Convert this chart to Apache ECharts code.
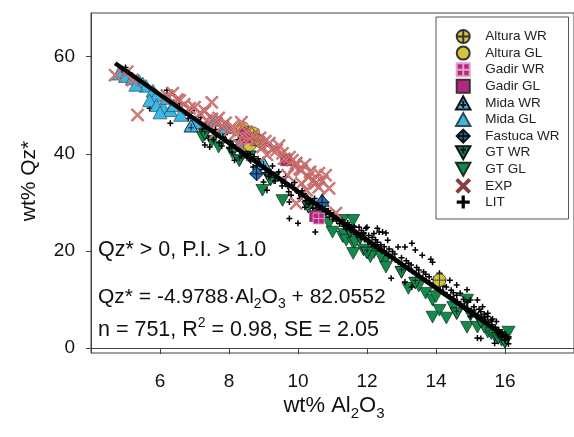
<!DOCTYPE html>
<html><head><meta charset="utf-8">
<script src="https://cdn.jsdelivr.net/npm/echarts@6/dist/echarts.min.js"></script>
<style>html,body{margin:0;padding:0;background:#fff}#c{width:574px;height:437px}</style>
</head><body><div id="c"></div>
<script>
// ---- data (wt% Al2O3, wt% Qz*) ----
const xTicks = [6, 8, 10, 12, 14, 16];
const yTicks = [0, 20, 40, 60];
const fitSlope = -4.9788, fitIntercept = 82.0552;
const fitRangeX = [4.7, 16.1];

const alturaWR = [[8.55,44.3],[8.75,43.0],[14.1,14.0]];
const alturaGL = [[8.4,45.3],[8.7,44.2],[8.9,42.6],[8.6,41.9]];
const gadirWR = [[8.5,43.2],[10.6,26.7]];
const gadirGL = [[8.45,44.0],[9.66,38.7],[10.5,27.2]];
const midaWR = [[10.7,30.5],[9.0,38.1],[6.9,45.8]];
const midaGL = [[4.8,56.5],[5.0,56.0],[5.2,55.5],[5.4,55.0],[5.5,54.5],[5.6,54.0],[5.8,53.0],[5.9,52.0],[5.7,51.0],[5.9,50.0],[6.1,49.5],[6.3,49.0],[6.0,48.5],[6.4,50.0],[6.2,51.5],[5.3,54.2],[7.6,47.0],[7.9,45.5],[6.6,48.0],[7.0,46.5],[8.3,42.0]];
const fastucaWR = [[10.7,30.0],[8.8,35.9]];
const gtWR = [[7.3,44.0],[8.6,39.4],[8.3,38.6],[9.2,34.6],[10.3,29.0],[11.5,24.0],[11.8,22.6],[12.0,19.6],[13.0,15.6],[13.4,13.4],[14.6,7.1],[15.3,5.4],[15.8,2.0],[16.0,1.2]];
const gtGL = [[7.24,43.4],[7.7,41.4],[7.5,42.6],[8.1,40.2],[8.97,32.5],[9.55,30.4],[9.3,35.0],[10.6,27.8],[10.9,25.7],[11.0,23.9],[11.3,26.3],[11.3,22.9],[11.35,23.4],[11.4,22.2],[11.6,21.6],[11.65,21.8],[11.6,19.5],[11.6,26.3],[11.9,20.2],[12.2,19.7],[12.5,17.7],[12.55,16.7],[12.4,18.9],[13.2,12.3],[13.7,11.3],[13.9,9.9],[13.9,6.4],[14.1,7.8],[14.3,6.2],[14.5,8.4],[14.9,9.9],[14.9,4.3],[15.0,6.8],[15.2,4.3],[15.5,3.3],[15.4,4.3],[15.6,3.0],[15.9,1.6],[16.1,3.3],[15.7,2.5],[14.0,10.6],[13.5,12.8],[12.1,18.8]];
const exp = [[4.7,56.2],[5.35,48.0],[6.37,52.5],[6.2,52.0],[6.5,51.2],[6.57,51.0],[6.7,50.2],[6.86,49.4],[7.0,49.6],[7.15,48.3],[7.3,48.8],[7.35,46.9],[7.5,50.6],[7.5,47.2],[7.64,46.3],[7.7,47.4],[7.81,45.5],[7.9,46.4],[8.02,44.9],[8.1,45.6],[8.2,44.2],[8.36,46.5],[8.4,43.6],[8.5,44.6],[8.6,43.1],[8.7,43.9],[8.8,42.8],[8.9,43.3],[8.97,41.4],[9.05,42.6],[9.17,42.2],[9.25,40.9],[9.38,40.8],[9.45,41.7],[9.55,40.1],[9.6,39.0],[9.75,39.3],[9.84,38.7],[9.9,37.4],[9.95,38.1],[10.05,36.9],[10.1,36.6],[10.2,37.8],[10.3,35.2],[10.35,36.3],[10.45,34.6],[10.5,33.9],[10.6,36.0],[10.6,33.1],[10.7,34.4],[10.8,35.6],[10.9,32.9],[11.1,27.8],[9.95,29.8],[9.1,39.8],[8.3,41.8],[7.6,44.3],[10.1,33.9],[10.25,32.5],[9.7,35.6],[5.2,55.2],[5.05,56.9]];
const lit = [[4.9,57.2],[5.0,57.8],[5.1,56.6],[5.7,49.4],[6.0,51.8],[6.2,53.1],[6.3,46.3],[6.45,50.2],[6.57,50.4],[6.62,48.9],[6.75,48.4],[6.82,47.3],[6.93,48.9],[7.02,47.0],[7.05,45.6],[7.13,46.6],[7.22,45.1],[7.18,47.5],[7.3,41.8],[7.33,46.2],[7.44,41.4],[7.41,43.2],[7.52,44.8],[7.55,42.9],[7.63,43.9],[7.61,45.0],[7.72,42.3],[7.74,44.4],[7.83,43.5],[7.79,41.6],[7.92,42.8],[7.88,44.0],[8.01,41.2],[8.04,42.6],[8.12,41.9],[8.16,38.7],[8.09,40.4],[8.22,41.4],[8.27,42.9],[8.31,40.6],[8.36,39.5],[8.42,41.0],[8.45,39.9],[8.52,39.2],[8.55,40.6],[8.63,38.6],[8.61,39.9],[8.7,37.3],[8.73,39.4],[8.81,37.6],[8.84,39.0],[8.92,36.8],[8.88,38.3],[9.0,34.2],[9.02,37.4],[9.05,36.1],[9.1,32.5],[9.12,36.8],[9.15,35.4],[9.22,36.2],[9.26,37.5],[9.31,35.6],[9.34,34.4],[9.42,35.1],[9.44,36.3],[9.51,34.5],[9.54,33.4],[9.62,34.0],[9.64,35.3],[9.75,26.7],[9.75,30.1],[9.71,33.3],[9.73,32.2],[9.82,33.6],[9.8,31.5],[9.92,32.6],[9.9,34.1],[10.0,25.7],[10.02,31.9],[10.05,30.8],[10.12,32.4],[10.1,31.2],[10.2,29.0],[10.22,30.4],[10.18,31.8],[10.32,29.8],[10.28,31.0],[10.41,30.2],[10.43,28.8],[10.5,23.9],[10.52,29.5],[10.48,30.8],[10.61,28.6],[10.58,29.9],[10.72,28.0],[10.69,29.3],[10.81,27.5],[10.78,28.7],[10.92,27.0],[10.88,28.3],[11.01,26.6],[11.04,27.9],[11.12,26.2],[11.09,27.4],[11.21,25.6],[11.18,26.9],[11.32,25.1],[11.28,26.4],[11.41,24.6],[11.44,25.8],[11.52,24.3],[11.48,25.4],[11.61,23.8],[11.63,25.0],[11.72,23.3],[11.77,24.9],[11.81,22.8],[11.84,24.2],[11.92,22.4],[11.97,24.7],[11.9,23.6],[12.0,24.9],[12.02,21.9],[12.05,23.2],[12.12,21.4],[12.15,22.8],[12.2,23.6],[12.22,21.0],[12.25,22.3],[12.3,24.7],[12.32,20.5],[12.3,21.8],[12.35,23.9],[12.45,23.9],[12.42,20.0],[12.4,21.3],[12.52,19.6],[12.55,23.7],[12.5,20.9],[12.6,22.2],[12.62,19.1],[12.64,20.4],[12.7,14.4],[12.71,18.6],[12.74,19.9],[12.82,18.2],[12.8,19.4],[12.91,17.7],[12.9,20.8],[13.02,17.2],[13.0,18.6],[13.1,20.8],[13.11,16.8],[13.1,13.6],[13.14,18.0],[13.22,16.3],[13.2,17.5],[13.3,21.6],[13.3,12.6],[13.32,15.8],[13.28,17.1],[13.42,15.3],[13.4,20.2],[13.44,16.6],[13.52,14.9],[13.5,16.1],[13.6,19.1],[13.62,14.4],[13.64,15.7],[13.72,13.9],[13.7,15.2],[13.82,13.4],[13.85,18.3],[13.8,14.7],[13.92,13.0],[13.9,17.7],[13.94,14.2],[14.02,12.5],[14.0,13.7],[14.1,15.4],[14.12,12.0],[14.15,13.3],[14.22,11.5],[14.2,12.8],[14.32,11.0],[14.3,12.6],[14.4,14.0],[14.42,10.6],[14.44,11.9],[14.52,10.1],[14.5,11.4],[14.6,13.0],[14.62,9.6],[14.6,10.9],[14.72,9.1],[14.7,11.3],[14.82,8.7],[14.8,10.0],[14.9,12.0],[14.92,8.2],[14.9,9.5],[15.0,6.5],[15.02,7.7],[15.0,9.9],[15.12,7.2],[15.1,8.5],[15.2,9.9],[15.22,6.8],[15.2,2.1],[15.25,8.0],[15.3,2.0],[15.32,6.3],[15.35,8.5],[15.3,7.5],[15.42,5.8],[15.4,7.0],[15.5,7.2],[15.52,5.3],[15.5,6.5],[15.6,5.8],[15.62,4.8],[15.64,6.0],[15.72,4.3],[15.7,1.0],[15.75,5.5],[15.82,3.8],[15.8,2.9],[15.92,3.3],[15.9,2.2],[16.02,2.8],[16.0,1.6],[16.1,2.0],[16.1,0.9]];

// ---- symbols ----
const S = {
  circleCross: 'path://M10,0 A10,10 0 1,1 -10,0 A10,10 0 1,1 10,0 Z M0,-10 L0,10 M-10,0 L10,0',
  circle: 'circle',
  rectCross: 'path://M0,0 L20,0 L20,20 L0,20 Z M10,0 L10,20 M0,10 L20,10',
  rect: 'path://M0,0 L20,0 L20,20 L0,20 Z',
  triCross: 'path://M10,0 L20,18 L0,18 Z M10,6 L10,16 M6,12 L14,12',
  tri: 'path://M10,0 L20,18 L0,18 Z',
  diamondCross: 'path://M10,0 L20,10 L10,20 L0,10 Z M10,0 L10,20 M0,10 L20,10',
  downTriCross: 'path://M0,0 L20,0 L10,18 Z M10,2 L10,10 M6,5 L14,5',
  downTri: 'path://M0,0 L20,0 L10,18 Z',
  xMark: 'path://M2,0 L10,8 L18,0 L20,2 L12,10 L20,18 L18,20 L10,12 L2,20 L0,18 L8,10 L0,2 Z',
  plus: 'path://M3,0 L5,0 L5,3 L8,3 L8,5 L5,5 L5,8 L3,8 L3,5 L0,5 L0,3 L3,3 Z'
};
const C = {yellow:'#D4C43A', magenta:'#B3287E', lblue:'#3DB7E6', blue:'#1F6DB5', green:'#0F8B4B', exp:'#E27C7C', lit:'#000000'};

function sc(name, data, symbol, size, color, border, bw) {
  return {name, type:'scatter', data, symbol, symbolSize:size, symbolKeepAspect:true,
    itemStyle:{color, borderColor:border, borderWidth:bw, opacity:1}, z:2};
}
const ser = [
  sc('GT GL', gtGL, S.downTri, 13, C.green, '#1a2a1a', 0.7),
  sc('GT WR', gtWR, S.downTriCross, 13, C.green, '#111', 0.9),
  sc('LIT', lit, S.plus, 6, C.lit, '#000', 0),
  sc('Mida GL', midaGL, S.tri, 14, C.lblue, '#2b4a5a', 0.7),
  sc('Mida WR', midaWR, S.triCross, 14, C.lblue, '#111', 0.9),
  sc('Altura GL', alturaGL, S.circle, 13, C.yellow, '#333', 0.7),
  sc('Altura WR', alturaWR, S.circleCross, 13, C.yellow, '#333', 0.9),
  sc('Gadir GL', gadirGL, S.rect, 11, C.magenta, '#333', 0.6),
  sc('Gadir WR', gadirWR, S.rectCross, 11, C.magenta, '#e7a0c8', 0.9),
  sc('Fastuca WR', fastucaWR, S.diamondCross, 14, C.blue, '#111', 0.9),
  sc('EXP', exp, S.xMark, 13, C.exp, '#8a3c3c', 0.5)
];
ser.push({name:'fit', type:'line', data: fitRangeX.map(x => [x, fitSlope*x + fitIntercept]),
  symbol:'none', lineStyle:{color:'#000', width:4.5}, z:5, silent:true});

const legendNames = ['Altura WR','Altura GL','Gadir WR','Gadir GL','Mida WR','Mida GL','Fastuca WR','GT WR','GT GL','EXP','LIT'];
const FONT = '"Liberation Sans", Arial, sans-serif';

const chart = echarts.init(document.getElementById('c'), null, {renderer:'canvas'});
chart.setOption({
  animation:false,
  backgroundColor:'#ffffff',
  grid:{left:91, top:13, right:-1, bottom:84, show:true, borderColor:'#444', borderWidth:1},
  xAxis:{type:'value', min:4, max:18,
    axisLine:{show:true, lineStyle:{color:'#444', width:1}},
    axisTick:{show:true, inside:false, length:6, lineStyle:{color:'#444'}, customValues:xTicks},
    axisLabel:{fontSize:19, color:'#111', fontFamily:FONT, margin:19, customValues:xTicks},
    splitLine:{show:false}},
  yAxis:{type:'value', min:-1, max:69,
    axisLine:{show:true, lineStyle:{color:'#444', width:1}},
    axisTick:{show:true, inside:false, length:5, lineStyle:{color:'#444'}, customValues:yTicks},
    axisLabel:{fontSize:19, color:'#111', fontFamily:FONT, margin:16, customValues:yTicks},
    splitLine:{show:false}},
  legend:{data:legendNames, orient:'vertical', left:436, top:17,
    itemWidth:34, itemHeight:13, itemGap:1.6,
    padding:[12,9,10,19], borderColor:'#555', borderWidth:1, backgroundColor:'#fff',
    textStyle:{fontSize:13.5, color:'#222', fontFamily:FONT}, selectedMode:false},
  graphic:[
    {type:'text', x:98, y:250, style:{text:'Qz* > 0, P.I. > 1.0', fontSize:21.5, fontFamily:FONT, fill:'#111', verticalAlign:'middle'}},
    {type:'text', x:98, y:297, style:{text:'{n|Qz* = -4.9788·Al}{s|2}{n|O}{s|3}{n| + 82.0552}', fontFamily:FONT, fill:'#111', verticalAlign:'middle',
      rich:{n:{fontSize:21, lineHeight:28, fontFamily:FONT, fill:'#111'}, s:{fontSize:14, lineHeight:14, verticalAlign:'bottom', fontFamily:FONT, fill:'#111'}}}},
    {type:'text', x:98, y:330, style:{text:'{n|n = 751, R}{p|2}{n| = 0.98, SE = 2.05}', fontFamily:FONT, fill:'#111', verticalAlign:'middle',
      rich:{n:{fontSize:21.5, lineHeight:28, fontFamily:FONT, fill:'#111'}, p:{fontSize:14, lineHeight:14, verticalAlign:'top', fontFamily:FONT, fill:'#111'}}}},
    {type:'text', x:334, y:406, style:{text:'{n|wt% Al}{s|2}{n|O}{s|3}', fontFamily:FONT, fill:'#111', align:'center', verticalAlign:'middle',
      rich:{n:{fontSize:22, lineHeight:30, fontFamily:FONT, fill:'#111'}, s:{fontSize:15, lineHeight:15, verticalAlign:'bottom', fontFamily:FONT, fill:'#111'}}}},
    {type:'text', x:29, y:181, rotation:Math.PI/2, style:{text:'wt% Qz*', fontSize:21, fontFamily:FONT, fill:'#111', align:'center', verticalAlign:'middle'}}
  ],
  series:ser
});
</script></body></html>
